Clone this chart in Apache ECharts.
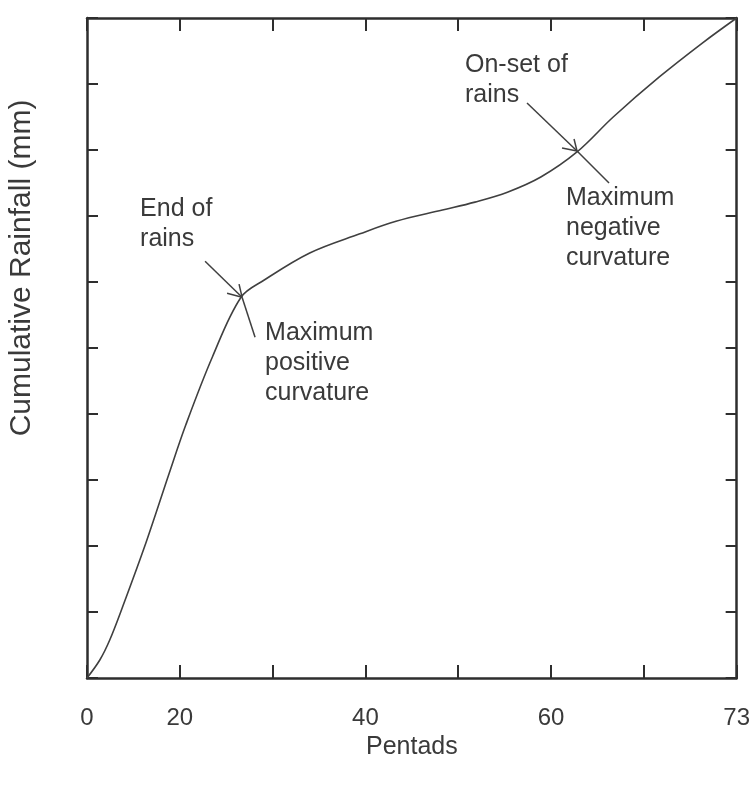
<!DOCTYPE html>
<html><head><meta charset="utf-8">
<script src="https://cdn.jsdelivr.net/npm/echarts@6/dist/echarts.min.js"></script>
<style>html,body{margin:0;padding:0;background:#fff}#c{width:753px;height:795px}</style>
</head><body><div id="c"></div>
<script>
// x axis in tick-index units (the figure's pentad ticks are unevenly spaced)
const xTickLabels = ['0', '20', '', '40', '', '60', '', '73'];
const curveX = [0, 0.138, 0.245, 0.383, 0.638, 0.883, 1.064, 1.351, 1.66, 1.91, 2.40, 2.94, 3.33, 3.83, 4.18, 4.53, 4.89, 5.28, 5.67, 6.17, 6.63, 7.0];
const curveY = [0, 0.273, 0.576, 1.076, 2.061, 3.091, 3.833, 4.864, 5.77, 6.03, 6.44, 6.73, 6.92, 7.09, 7.21, 7.36, 7.59, 7.97, 8.50, 9.11, 9.62, 10.0];
const kneePoint = [1.66, 5.77];
const onsetPoint = [5.28, 7.97];
const yTitle = 'Cumulative Rainfall (mm)';
const xTitle = 'Pentads';
const endText = 'End of\nrains';
const posText = 'Maximum\npositive\ncurvature';
const onsetText = 'On-set of\nrains';
const negText = 'Maximum\nnegative\ncurvature';

const FONT = "'Liberation Sans', Arial, Helvetica, sans-serif";
const INK = '#3a3a3a';
const chart = echarts.init(document.getElementById('c'));
const axisLine = { show: true, onZero: false, lineStyle: { color: '#2e2e2e', width: 2.5 } };
const tickIn = (len) => ({ show: true, inside: true, length: len, lineStyle: { color: '#2e2e2e', width: 2 } });

chart.setOption({
  animation: false,
  backgroundColor: '#fff',
  grid: { left: 87, right: 8, top: 18, bottom: 117 },
  xAxis: [
    {
      type: 'value', min: 0, max: 7, interval: 1, position: 'bottom',
      axisLine: axisLine, axisTick: tickIn(13), splitLine: { show: false },
      axisLabel: { margin: 28, fontSize: 24, color: INK, fontFamily: FONT,
        formatter: (v) => xTickLabels[Math.round(v)] },
      name: xTitle, nameLocation: 'middle', nameGap: 55,
      nameTextStyle: { fontSize: 25, color: INK, fontFamily: FONT }
    },
    {
      type: 'value', min: 0, max: 7, interval: 1, position: 'top',
      axisLine: axisLine, axisTick: tickIn(13), axisLabel: { show: false }, splitLine: { show: false }
    }
  ],
  yAxis: [
    {
      type: 'value', min: 0, max: 10, interval: 1, position: 'left',
      axisLine: axisLine, axisTick: tickIn(11), axisLabel: { show: false }, splitLine: { show: false }
    },
    {
      type: 'value', min: 0, max: 10, interval: 1, position: 'right',
      axisLine: axisLine, axisTick: tickIn(11), axisLabel: { show: false }, splitLine: { show: false }
    }
  ],
  series: [{
    type: 'line', smooth: 0.35, showSymbol: false,
    data: curveX.map((x, i) => [x, curveY[i]]),
    lineStyle: { color: '#404040', width: 1.6 }
  }]
});

function arrowGraphics(tip, from, barbA, barbB, ptrEnd) {
  const st = { stroke: '#404040', lineWidth: 1.5 };
  return [
    { type: 'line', shape: { x1: from[0], y1: from[1], x2: tip[0], y2: tip[1] }, style: st },
    { type: 'line', shape: { x1: tip[0] + barbA[0], y1: tip[1] + barbA[1], x2: tip[0], y2: tip[1] }, style: st },
    { type: 'line', shape: { x1: tip[0] + barbB[0], y1: tip[1] + barbB[1], x2: tip[0], y2: tip[1] }, style: st },
    { type: 'line', shape: { x1: tip[0], y1: tip[1], x2: ptrEnd[0], y2: ptrEnd[1] }, style: st }
  ];
}
function textG(str, x, y) {
  return { type: 'text', x: x, y: y, style: { text: str, fontSize: 25, lineHeight: 30,
    fill: INK, fontFamily: FONT, textVerticalAlign: 'top', textAlign: 'left' } };
}

const k = chart.convertToPixel({ xAxisIndex: 0, yAxisIndex: 0 }, kneePoint);
const o = chart.convertToPixel({ xAxisIndex: 0, yAxisIndex: 0 }, onsetPoint);
const g = [];
g.push(...arrowGraphics([k[0] + 1, k[1]], [k[0] - 36, k[1] - 36], [-15, -4], [-3, -13], [k[0] + 14, k[1] + 40]));
g.push(textG(endText, k[0] - 101, k[1] - 103));
g.push(textG(posText, k[0] + 24, k[1] + 21));
g.push(...arrowGraphics([o[0], o[1] - 1], [o[0] - 50, o[1] - 49], [-15, -3], [-3, -12], [o[0] + 32, o[1] + 31]));
g.push(textG(onsetText, o[0] - 112, o[1] - 102));
g.push(textG(negText, o[0] - 11, o[1] + 31));
g.push({ type: 'text', x: 22, y: 268, rotation: Math.PI / 2,
  style: { text: yTitle, fontSize: 30, fill: INK, fontFamily: FONT, textAlign: 'center', textVerticalAlign: 'middle' } });
chart.setOption({ graphic: g });
</script>
</body></html>
